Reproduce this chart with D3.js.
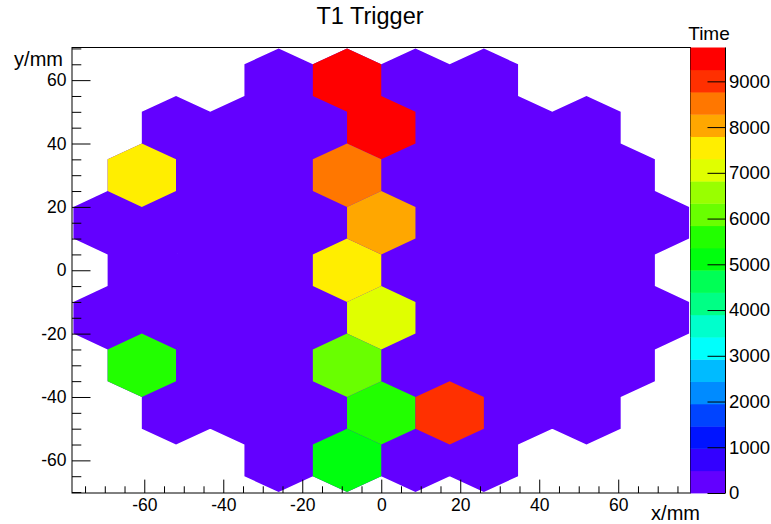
<!DOCTYPE html>
<html>
<head>
<meta charset="utf-8">
<script src="https://cdn.jsdelivr.net/npm/d3@7/dist/d3.min.js"></script>
<style>
  body { margin: 0; background: #fff; }
  svg text { font-family: "Liberation Sans", Arial, sans-serif; fill: #000; }
</style>
</head>
<body>
<svg id="chart" width="771" height="524"></svg>
<script>
// Hexagonal pad layout (mm) and trigger time per pad
const padRadius = 10;
const rowY = [60, 45, 30, 15, 0, -15, -30, -45, -60];
const rowX = [
  [-25.98, -8.66, 8.66, 25.98],
  [-51.96, -34.64, -17.32, 0, 17.32, 34.64, 51.96],
  [-60.62, -43.30, -25.98, -8.66, 8.66, 25.98, 43.30, 60.62],
  [-69.28, -51.96, -34.64, -17.32, 0, 17.32, 34.64, 51.96, 69.28],
  [-60.62, -43.30, -25.98, -8.66, 8.66, 25.98, 43.30, 60.62],
  [-69.28, -51.96, -34.64, -17.32, 0, 17.32, 34.64, 51.96, 69.28],
  [-60.62, -43.30, -25.98, -8.66, 8.66, 25.98, 43.30, 60.62],
  [-51.96, -34.64, -17.32, 0, 17.32, 34.64, 51.96],
  [-25.98, -8.66, 8.66, 25.98]
];
const rowTime = [
  [0, 9740, 0, 0],
  [0, 0, 0, 9600, 0, 0, 0],
  [7550, 0, 0, 8500, 0, 0, 0, 0],
  [0, 0, 0, 0, 8000, 0, 0, 0, 0],
  [0, 0, 0, 7500, 0, 0, 0, 0],
  [0, 0, 0, 0, 7050, 0, 0, 0, 0],
  [5550, 0, 0, 6100, 0, 0, 0, 0],
  [0, 0, 0, 5600, 9000, 0, 0],
  [0, 5100, 0, 0]
];
const xMajorTicks = [-60, -40, -20, 0, 20, 40, 60];
const yMajorTicks = [-60, -40, -20, 0, 20, 40, 60];
const zTicks = [0, 1000, 2000, 3000, 4000, 5000, 6000, 7000, 8000, 9000];
const nContours = 20;

const pads = [];
rowY.forEach((y, r) => rowX[r].forEach((x, i) => pads.push({ x, y, t: rowTime[r][i] })));
const zMax = d3.max(pads, d => d.t);

// frame geometry
const L = 72, T = 47.5, Rt = 690.5, B = 493;
const x = d3.scaleLinear().domain([-78.3, 78.3]).range([L, Rt]);
const y = d3.scaleLinear().domain([-70.3, 70.3]).range([B, T]);

// ROOT "pretty" violet->red palette: 50 hues, 20 contour bands
const prettyHue = i => 280 - (i + 1) * 280 / 50;
const bandColors = d3.range(nContours).map(k => {
  const idx = Math.floor((k + 0.99) * 50 / nContours);
  return d3.hsl(prettyHue(idx), 1, 0.5).formatHex();
});
const bandOf = v => Math.max(0, Math.min(nContours - 1, Math.floor(v / (zMax / nContours))));
const tickText = d => String(d);

const svg = d3.select("#chart");

svg.append("defs").append("clipPath").attr("id", "frameClip")
  .append("rect").attr("x", L).attr("y", T).attr("width", Rt - L).attr("height", B - T);

// hexagonal pads: one path per colour band so shared edges leave no seams
const hexPath = d => {
  const pts = d3.range(6).map(k => {
    const a = Math.PI / 180 * (90 - 60 * k);
    return [x(d.x + padRadius * Math.cos(a)), y(d.y + padRadius * Math.sin(a))];
  });
  return "M" + pts.join("L") + "Z";
};
const padLayer = svg.append("g").attr("clip-path", "url(#frameClip)");
// lowest band underneath every pad
padLayer.append("path")
  .attr("d", pads.map(hexPath).join(""))
  .attr("fill", bandColors[0]);
const byBand = d3.group(pads.filter(d => bandOf(d.t) > 0), d => bandOf(d.t));
padLayer.selectAll("path.band").data(Array.from(byBand)).join("path")
  .attr("class", "band")
  .attr("d", ([, list]) => list.map(hexPath).join(""))
  .attr("fill", ([k]) => bandColors[k]);

// frame
svg.append("rect").attr("x", L).attr("y", T).attr("width", Rt - L).attr("height", B - T)
  .attr("fill", "none").attr("stroke", "#000").attr("stroke-width", 1);

const styleAxis = g => {
  g.select(".domain").remove();
  g.selectAll("line").attr("stroke", "#000").attr("stroke-width", 1);
};

// x axis (ticks drawn inside the frame)
const xMinor = d3.range(-75, 76, 5).filter(v => !xMajorTicks.includes(v));
svg.append("g").attr("transform", `translate(0,${B})`)
  .call(d3.axisBottom(x).tickValues(xMinor).tickSize(-6.7).tickFormat(""))
  .call(styleAxis);
svg.append("g").attr("transform", `translate(0,${B})`)
  .call(d3.axisBottom(x).tickValues(xMajorTicks).tickSize(-13.4).tickPadding(6).tickFormat(tickText))
  .call(styleAxis)
  .call(g => g.selectAll("text").style("font-size", "17.5px").attr("font-family", null));

// y axis
const yMinor = d3.range(-70, 71, 5).filter(v => !yMajorTicks.includes(v));
svg.append("g").attr("transform", `translate(${L},0)`)
  .call(d3.axisLeft(y).tickValues(yMinor).tickSize(-9.3).tickFormat(""))
  .call(styleAxis);
svg.append("g").attr("transform", `translate(${L},0)`)
  .call(d3.axisLeft(y).tickValues(yMajorTicks).tickSize(-18.5).tickPadding(5.5).tickFormat(tickText))
  .call(styleAxis)
  .call(g => g.selectAll("text").style("font-size", "17.5px").attr("font-family", null));

// axis titles
svg.append("text").attr("x", 700).attr("y", 519.5).attr("text-anchor", "end")
  .style("font-size", "20px").text("x/mm");
svg.append("text").attr("x", 63).attr("y", 66).attr("text-anchor", "end")
  .style("font-size", "20px").text("y/mm");

// main title
svg.append("text").attr("x", 370).attr("y", 23.5).attr("text-anchor", "middle")
  .style("font-size", "23.5px").text("T1 Trigger");

// colour palette bar
const pL = 690.5, pR = 725.5;
const z = d3.scaleLinear().domain([0, zMax]).range([B, T]);
const bandStep = zMax / nContours;
svg.append("g").selectAll("rect").data(bandColors).join("rect")
  .attr("x", pL).attr("width", pR - pL)
  .attr("y", (c, k) => z((k + 1) * bandStep))
  .attr("height", (c, k) => z(k * bandStep) - z((k + 1) * bandStep) + 0.4)
  .attr("fill", c => c);
svg.append("line").attr("x1", pR).attr("x2", pR).attr("y1", T).attr("y2", B)
  .attr("stroke", "#000");
svg.append("g").attr("transform", `translate(${pR},0)`)
  .call(d3.axisRight(z).tickValues(zTicks).tickSize(-18).tickPadding(3.5).tickFormat(tickText))
  .call(styleAxis)
  .call(g => g.selectAll("text").style("font-size", "18.5px").attr("font-family", null));
svg.append("text").attr("x", 709).attr("y", 40).attr("text-anchor", "middle")
  .style("font-size", "19px").text("Time");
</script>
</body>
</html>
